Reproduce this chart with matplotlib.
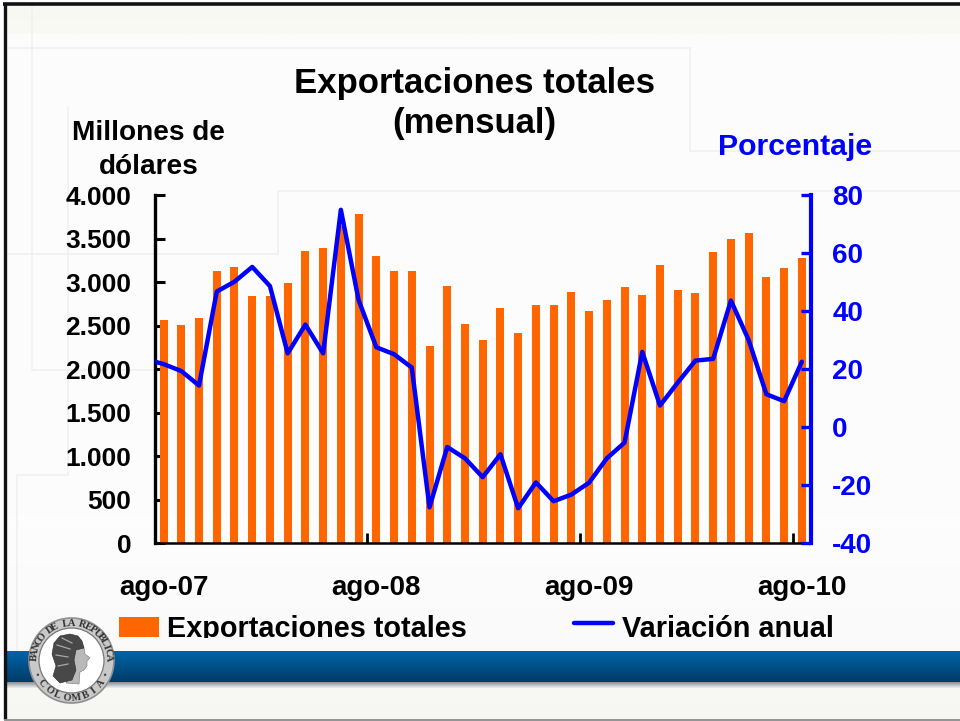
import numpy as np
import matplotlib
matplotlib.use("Agg")
import matplotlib.pyplot as plt
from matplotlib.patches import Circle, Polygon
from matplotlib.transforms import Bbox, IdentityTransform, TransformedBbox
from matplotlib.ticker import FixedLocator, FixedFormatter, NullFormatter

plt.rcParams['font.family'] = ['Liberation Sans', 'DejaVu Sans']
plt.rcParams['font.weight'] = 'bold'
plt.rcParams['axes.unicode_minus'] = False

W, H = 960, 721

meses = ['ago-07', 'sep-07', 'oct-07', 'nov-07', 'dic-07', 'ene-08', 'feb-08', 'mar-08', 'abr-08',
         'may-08', 'jun-08', 'jul-08', 'ago-08', 'sep-08', 'oct-08', 'nov-08', 'dic-08', 'ene-09',
         'feb-09', 'mar-09', 'abr-09', 'may-09', 'jun-09', 'jul-09', 'ago-09', 'sep-09', 'oct-09',
         'nov-09', 'dic-09', 'ene-10', 'feb-10', 'mar-10', 'abr-10', 'may-10', 'jun-10', 'jul-10',
         'ago-10']
exportaciones = [2567, 2510, 2590, 3130, 3176, 2843, 2843, 2992, 3360, 3395, 3650, 3785, 3303,
                 3130, 3130, 2268, 2958, 2521, 2337, 2705, 2418, 2740, 2740, 2889, 2670, 2797,
                 2946, 2854, 3199, 2912, 2877, 3349, 3498, 3567, 3061, 3165, 3280]
variacion = [21.8, 19.4, 14.4, 46.8, 50.2, 55.3, 48.7, 25.5, 35.4, 25.5, 75.0, 43.9, 27.6, 25.2,
             20.6, -27.6, -6.8, -10.7, -17.2, -9.3, -27.9, -19.0, -25.5, -23.2, -19.1, -10.7,
             -5.3, 26.0, 7.5, 15.4, 23.0, 23.6, 43.7, 30.1, 11.4, 9.0, 22.6]
variacion_jul07 = 23.5
yticks_izq = [0, 500, 1000, 1500, 2000, 2500, 3000, 3500, 4000]
yticklabels_izq = ['0', '500', '1.000', '1.500', '2.000', '2.500', '3.000', '3.500', '4.000']
yticks_der = [-40, -20, 0, 20, 40, 60, 80]
xticks_idx = [0, 12, 24, 36]
xticklabels = ['ago-07', 'ago-08', 'ago-09', 'ago-10']

NARANJA = '#ff6600'
AZUL = '#0000ff'

fig = plt.figure(figsize=(W / 100, H / 100), dpi=100, facecolor='white')

# ---- fondo de la diapositiva, en coordenadas de pixel ----
bg = fig.add_axes([0, 0, 1, 1], zorder=0)
bg.set_axis_off()


def vgrad(ax, x0, x1, y0, y1, top, bottom, z=1):
    c0, c1 = np.array(matplotlib.colors.to_rgb(top)), np.array(matplotlib.colors.to_rgb(bottom))
    t = np.linspace(0, 1, 64)[:, None, None]
    ax.imshow(c0 * (1 - t) + c1 * t, extent=[x0, x1, y1, y0], aspect='auto', zorder=z,
              interpolation='bilinear')


vgrad(bg, 5, W, 5, 34, '#f8f8f3', '#f9f9f5')
vgrad(bg, 5, W, 34, 520, '#fcfcfc', '#fdfdfd')
vgrad(bg, 5, W, 520, 651, '#fdfdfd', '#fafafa')
vgrad(bg, 5, W, 651, 682, '#0063a8', '#003c68', z=3)
vgrad(bg, 5, W, 682, 688, '#8c8c8c', '#f0f0ee', z=3)
vgrad(bg, 5, W, 688, 719, '#f8f8f5', '#f6f6f2')

faint = [([5, 690, 690, 960], [48, 48, 151, 151]),
         ([960, 278, 278, 5], [191, 191, 254, 254]),
         ([32, 32, 155], [5, 370, 370]),
         ([68, 68, 17, 17], [107, 475, 475, 651])]
for xs, ys in faint:
    bg.plot(xs, ys, color='#f0f0f0', lw=1.2, zorder=2, solid_joinstyle='miter')

# marco
bg.plot([4.5, 4.5], [4, 719], color='#111111', lw=2.4, zorder=6, solid_capstyle='butt')
bg.plot([3, 960], [4, 4], color='#111111', lw=2.6, zorder=6, solid_capstyle='butt')
bg.plot([5, 960], [719.7, 719.7], color='#8a8a8a', lw=1.3, zorder=6)

# sello del banco
cx, cy = 71.5, 660.5
bg.add_patch(Circle((cx, cy), 42.5, fc='#c9c9c9', ec='#8f8f8f', lw=1.2, zorder=7))
bg.add_patch(Circle((cx, cy), 32.5, fc='#ffffff', ec='#777777', lw=0.9, zorder=8))


def arco(texto, a0, a1, r, arriba=True):
    angs = np.linspace(a0, a1, len(texto))
    for ch, a in zip(texto, angs):
        x = cx + r * np.cos(np.radians(a))
        y = cy - r * np.sin(np.radians(a))
        rot = a - 90 if arriba else a + 90
        bg.text(x, y, ch, fontsize=7.4, family=['Liberation Serif', 'DejaVu Serif'], color='#333333',
                ha='center', va='center', rotation=rot, rotation_mode='anchor', zorder=9)


arco('BANCO DE LA REPUBLICA', 176, 4, 37.2)
arco('COLOMBIA', 218, 322, 37.4, arriba=False)
for a in (203, 337):
    bg.add_patch(Circle((cx + 36.5 * np.cos(np.radians(a)), cy - 36.5 * np.sin(np.radians(a))), 1.2,
                        fc='#444444', ec='none', zorder=9))
# cabeza
cabello = [(52, 654), (54, 643), (60, 636), (70, 634), (78, 636), (82, 641), (84, 648), (76, 650),
           (74, 660), (76, 670), (72, 680), (60, 683), (53, 676), (56, 666)]
rostro = [(80, 640), (84, 648), (85, 654), (90, 658), (87, 661), (87, 666), (84, 670), (80, 672),
          (79, 684), (66, 683), (70, 672), (72, 662), (74, 650)]
bg.add_patch(Polygon(rostro, fc='#b9b9b9', ec='#777777', lw=0.4, zorder=9))
bg.add_patch(Polygon(cabello, fc='#484848', ec='#2b2b2b', lw=0.4, zorder=10))
for (x0, y0, x1, y1) in [(57, 645, 70, 649), (56, 655, 68, 657), (58, 666, 68, 664), (62, 638, 72, 643)]:
    bg.plot([x0, x1], [y0, y1], color='#a8a8a8', lw=0.9, zorder=11)

bg.set_xlim(0, W)
bg.set_ylim(H, 0)

# ---- grafico ----
L, R, T, B = 154.7, 810.7, 195.3, 543.3
ax = fig.add_axes([L / W, 1 - B / H, (R - L) / W, (B - T) / H], zorder=2)
ax.patch.set_visible(False)
x = np.arange(len(meses))
barras = ax.bar(x, exportaciones, width=0.45, color=NARANJA, label='Exportaciones totales', zorder=2)
ax.set_xlim(-0.5, 36.5)
ax.set_ylim(0, 4000)
ax.set_yticks(yticks_izq)
ax.set_yticklabels(yticklabels_izq)
ax.tick_params(axis='y', direction='in', length=7.5, width=2.2, color='black', pad=16.8, labelsize=19)
ax.xaxis.set_major_locator(FixedLocator([i - 0.5 for i in xticks_idx]))
ax.xaxis.set_major_formatter(NullFormatter())
ax.xaxis.set_minor_locator(FixedLocator(xticks_idx))
ax.xaxis.set_minor_formatter(FixedFormatter(xticklabels))
ax.tick_params(axis='x', which='major', direction='in', length=7.5, width=2.0, color='black')
ax.tick_params(axis='x', which='minor', length=0, pad=23, labelsize=20)
for s in ('top', 'right'):
    ax.spines[s].set_visible(False)
ax.spines['left'].set_linewidth(2.4)
ax.spines['bottom'].set_linewidth(1.8)

ax2 = ax.twinx()
ax2.patch.set_visible(False)
ax2.set_ylim(-40, 80)
ax2.set_yticks(yticks_der)
ax2.tick_params(axis='y', direction='in', length=7.5, width=2.4, color=AZUL, labelcolor=AZUL, pad=15.5, labelsize=20)
for s in ('top', 'left', 'bottom'):
    ax2.spines[s].set_visible(False)
ax2.spines['right'].set_linewidth(3.0)
ax2.spines['right'].set_color(AZUL)
ax2.plot(np.r_[-1, x], np.r_[variacion_jul07, variacion], color=AZUL, lw=3.2, solid_joinstyle='round',
         solid_capstyle='round', zorder=3, label='Variación anual')

# ---- textos ----
bg.text(474, 133, 'Exportaciones totales\n(mensual)', fontsize=25, ha='center', va='baseline',
        linespacing=1.28, zorder=12)
bg.text(148.5, 173.5, 'Millones de\ndólares', fontsize=20.2, ha='center', va='baseline', linespacing=1.4, zorder=12)
bg.text(795.5, 155, 'Porcentaje', fontsize=21.8, ha='center', va='baseline', color=AZUL, zorder=12)

# ---- leyenda ----
handles = [barras, ax2.get_lines()[0]]
leg = ax.legend(handles, [h.get_label() for h in handles], ncols=2, frameon=False, fontsize=20.8,
                loc='lower left', bbox_to_anchor=(119 / W, 1 - 643 / H), bbox_transform=fig.transFigure,
                borderpad=0, borderaxespad=0, handlelength=1.38, handleheight=0.7, handletextpad=0.28,
                columnspacing=3.7)
leg.set_zorder(5)
linea_ley = leg.legend_handles[1]
linea_ley.set_ydata(np.asarray(linea_ley.get_ydata()) + 3)
clip = TransformedBbox(Bbox([[0, H - 637.5], [W, H]]), IdentityTransform())
for t in leg.get_texts():
    t.set_clip_on(True)
    t.set_clip_box(clip)

fig.savefig('out.png', dpi=100, facecolor='white')
